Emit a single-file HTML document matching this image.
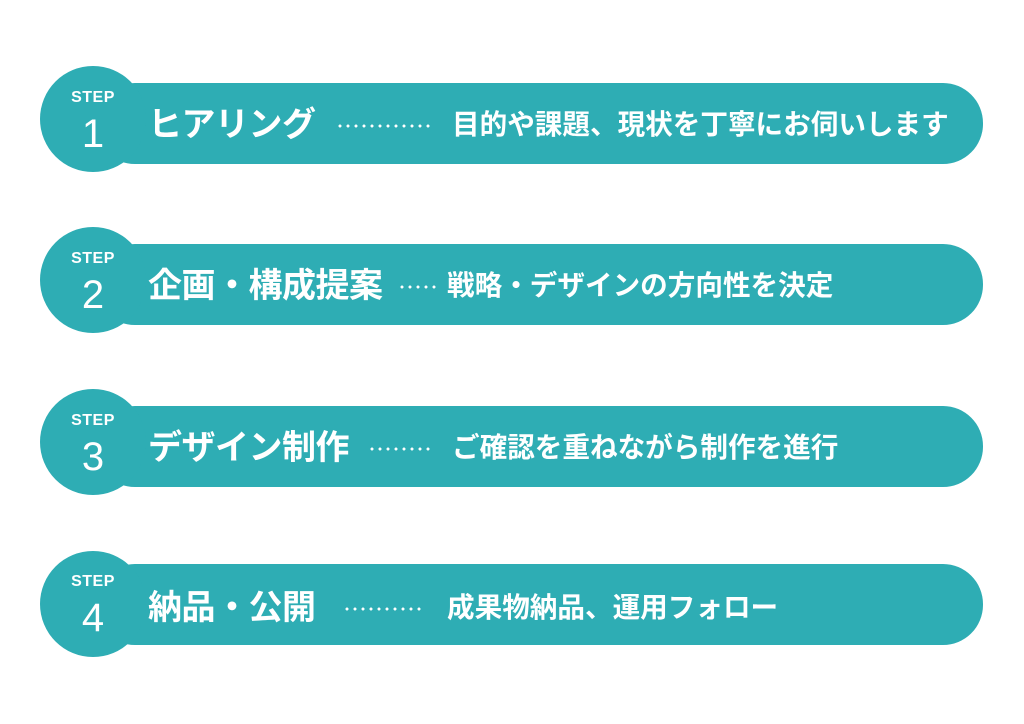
<!DOCTYPE html>
<html><head><meta charset="utf-8"><style>
body{margin:0;width:1024px;height:724px;background:#fff;position:relative;overflow:hidden;font-family:"Liberation Sans","Noto Sans CJK JP",sans-serif;color:#fff}
.bar{position:absolute;left:95px;width:888px;height:81px;border-radius:40px;background:#2eadb4}
.c{position:absolute;left:40px;width:106px;height:106px;border-radius:50%;background:#2eadb4}
.st{position:absolute;left:40px;width:106px;text-align:center;font-size:16px;font-weight:bold;letter-spacing:0.5px}
.n{position:absolute;left:40px;width:106px;text-align:center;font-size:40px}
.t{position:absolute;left:148px;font-size:34px;font-weight:bold;white-space:nowrap;line-height:44px;letter-spacing:-0.5px}
.d{position:absolute;font-size:27.6px;font-weight:bold;white-space:nowrap;line-height:34px}
.dot{position:absolute;height:4px;background-image:radial-gradient(circle,#fff 1.3px,transparent 1.7px);background-size:8px 4px;background-repeat:repeat-x}
</style></head><body>

<div class="bar" style="top:83px"></div><div class="c" style="top:66px"></div>
<div class="st" style="top:89px">STEP</div><div class="n" style="top:112px">1</div>
<div class="t" style="top:103px">ヒアリング</div>
<div class="dot" style="left:336px;top:124px;width:94px"></div>
<div class="d" style="left:452px;top:108px">目的や課題、現状を丁寧にお伺いします</div>

<div class="bar" style="top:244px"></div><div class="c" style="top:227px"></div>
<div class="st" style="top:250px">STEP</div><div class="n" style="top:273px">2</div>
<div class="t" style="top:264px">企画・構成提案</div>
<div class="dot" style="left:398px;top:285px;width:40px"></div>
<div class="d" style="left:447px;top:269px">戦略・デザインの方向性を決定</div>

<div class="bar" style="top:406px"></div><div class="c" style="top:389px"></div>
<div class="st" style="top:412px">STEP</div><div class="n" style="top:435px">3</div>
<div class="t" style="top:426px">デザイン制作</div>
<div class="dot" style="left:368px;top:447px;width:64px"></div>
<div class="d" style="left:452px;top:431px">ご確認を重ねながら制作を進行</div>

<div class="bar" style="top:564px"></div><div class="c" style="top:551px"></div>
<div class="st" style="top:573px">STEP</div><div class="n" style="top:596px">4</div>
<div class="t" style="top:586px">納品・公開</div>
<div class="dot" style="left:343px;top:607px;width:80px"></div>
<div class="d" style="left:447px;top:591px">成果物納品、運用フォロー</div>

</body></html>
